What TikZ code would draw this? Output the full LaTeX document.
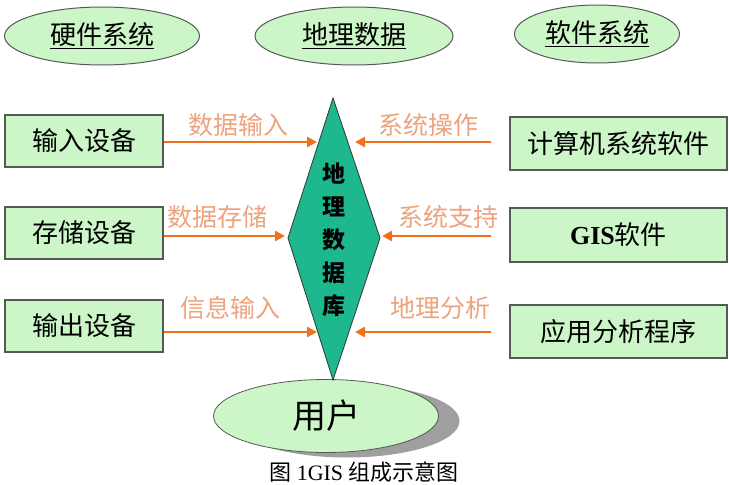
\documentclass[tikz,border=0pt]{standalone}
\usepackage{fontspec}
\setmainfont{Noto Sans CJK SC}
\newfontfamily\lib{Liberation Serif}
\usetikzlibrary{shapes.geometric,arrows.meta}
\definecolor{pgreen}{RGB}{204,246,200}
\definecolor{dgreen}{RGB}{29,184,142}
\definecolor{oarrow}{RGB}{240,112,30}
\definecolor{olabel}{RGB}{236,163,126}
\definecolor{bordc}{RGB}{85,90,85}
\tikzset{
  topell/.style={ellipse,draw=bordc,line width=1pt,fill=pgreen,inner sep=0pt,font=\fontsize{26}{26}\selectfont},
  boxnode/.style={rectangle,draw=bordc,line width=1.3pt,fill=pgreen,inner sep=0pt,font=\fontsize{26}{26}\selectfont},
  arr/.style={draw=oarrow,line width=2.6pt,-{Triangle[length=10pt,width=10pt]}},
  lbl/.style={text=olabel,inner sep=0pt,font=\fontsize{25}{25}\selectfont},
  diabox/.style={draw=bordc!60!black,line width=0.8pt,fill=dgreen}
}
\begin{document}
\begin{tikzpicture}[x=1pt,y=-1pt]
\useasboundingbox (0,0) rectangle (729,485);
% top ellipses
\node[topell,minimum width=195,minimum height=58] (hw) at (102,36) {\underline{硬件系统}};
\node[topell,minimum width=198,minimum height=58] (gd) at (354,36) {\underline{地理数据}};
\node[topell,minimum width=165,minimum height=58] (sw) at (597,34) {\underline{软件系统}};
% left boxes
\node[boxnode,minimum width=158,minimum height=52] (l1) at (84,141) {输入设备};
\node[boxnode,minimum width=158,minimum height=52] (l2) at (84,233) {存储设备};
\node[boxnode,minimum width=158,minimum height=52] (l3) at (84,326) {输出设备};
% right boxes
\node[boxnode,minimum width=217,minimum height=53] (r1) at (618.5,143.5) {计算机系统软件};
\node[boxnode,minimum width=217,minimum height=54] (r2) at (618.5,235) {{\lib\bfseries GIS}软件};
\node[boxnode,minimum width=217,minimum height=53] (r3) at (618.5,331.5) {应用分析程序};
% user ellipse with shadow
\node[ellipse,fill=gray!75,inner sep=0pt,minimum width=225,minimum height=73] (ushadow) at (347,421) {};
\node[ellipse,draw=bordc,line width=0.8pt,fill=pgreen,inner sep=0pt,minimum width=225,minimum height=73,font=\fontsize{34}{34}\selectfont] (user) at (326,416) {用户};
% diamond
\coordinate (dt) at (333,98);
\coordinate (dr) at (380,238);
\coordinate (db) at (333,380);
\coordinate (dl) at (288,238);
\draw[diabox] (dt) -- (dr) -- (db) -- (dl) -- cycle;
\node[inner sep=0pt,align=center,font=\fontsize{23}{33}\selectfont\bfseries] (db-text) at (334,240) {地\\理\\数\\据\\库};
% arrow tips
\coordinate (d1l) at (317,142);
\coordinate (d2l) at (285,236);
\coordinate (d3l) at (317,332);
\coordinate (d1r) at (355,142);
\coordinate (d2r) at (382,236);
\coordinate (d3r) at (355,332);
\path (r1.west |- d1r) ++(-18,0) coordinate (s1r);
\path (r2.west |- d2r) ++(-18,0) coordinate (s2r);
\path (r3.west |- d3r) ++(-18,0) coordinate (s3r);
\draw[arr] (l1.east |- d1l) -- (d1l);
\draw[arr] (l2.east |- d2l) -- (d2l);
\draw[arr] (l3.east |- d3l) -- (d3l);
\draw[arr] (s1r) -- (d1r);
\draw[arr] (s2r) -- (d2r);
\draw[arr] (s3r) -- (d3r);
% labels
\node[lbl] (a1) at (238,125) {数据输入};
\node[lbl] (a2) at (217,217) {数据存储};
\node[lbl] (a3) at (230,308) {信息输入};
\node[lbl] (b1) at (428,125) {系统操作};
\node[lbl] (b2) at (448,217) {系统支持};
\node[lbl] (b3) at (440,308) {地理分析};
% caption
\node[inner sep=0pt,font=\fontsize{22}{22}\selectfont] (cap) at (364,472) {图 {\lib 1GIS} 组成示意图};
\end{tikzpicture}
\end{document}
